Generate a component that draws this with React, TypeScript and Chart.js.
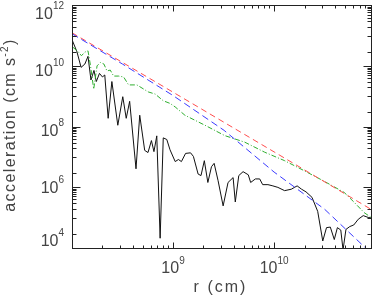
import React, { useEffect, useRef } from 'react';
import { Chart, registerables } from 'chart.js';

Chart.register(...registerables);

// r (cm) and acceleration (cm s^-2)
const blackR = [1.01e8, 1.12e8, 1.23e8, 1.34e8, 1.44e8, 1.54e8, 1.65e8, 1.74e8, 1.87e8, 2.0e8, 2.11e8, 2.28e8, 2.48e8, 2.84e8, 3.18e8, 3.44e8, 3.72e8, 4.3e8, 4.68e8, 5.24e8, 5.65e8, 6.11e8, 6.47e8, 6.9e8, 7.45e8, 8.0e8, 8.67e8, 9.33e8, 1.05e9, 1.13e9, 1.21e9, 1.33e9, 1.49e9, 1.59e9, 1.77e9, 1.89e9, 2.04e9, 2.21e9, 2.4e9, 2.55e9, 2.79e9, 3.13e9, 3.5e9, 3.93e9, 4.13e9, 4.47e9, 4.93e9, 5.55e9, 5.86e9, 6.53e9, 7.2e9, 7.71e9, 8.69e9, 9.72e9, 1.09e10, 1.27e10, 1.48e10, 1.69e10, 1.87e10, 2.07e10, 2.37e10, 2.7e10, 3.03e10, 3.3e10, 3.6e10, 3.94e10, 4.23e10, 4.57e10, 4.81e10, 5.14e10, 5.61e10, 6.14e10, 6.81e10, 7.62e10, 8.53e10, 9.2e10];
const blackA = [6.9e10, 2.95e10, 9.1e9, 1.17e10, 2.1e10, 3.5e9, 7.2e9, 3.1e9, 5.75e9, 4.4e9, 5.1e9, 1.9e8, 3.1e9, 1.12e8, 9.8e8, 1.9e8, 6.9e8, 4.1e6, 2.4e8, 1.66e7, 1.41e7, 3.5e7, 1.51e7, 5.0e7, 2.1e4, 4.3e7, 3.8e7, 1.74e7, 7.1e6, 8.3e6, 7.1e6, 1.32e7, 1.38e7, 1.05e7, 2.75e6, 2.45e6, 7.6e6, 1.45e6, 4.8e6, 6.2e6, 1.66e6, 2.45e5, 1.45e6, 2.1e6, 3.3e5, 2.45e6, 3.3e6, 2.6e6, 1.45e6, 1.9e6, 1.9e6, 1.23e6, 1.23e6, 1.12e6, 1.0e6, 7.8e5, 8.7e5, 1.12e6, 8.7e5, 7.1e5, 4.7e5, 1.62e5, 1.7e4, 4.7e4, 4.9e4, 1.9e4, 4.7e4, 3.9e4, 8.7e3, 4.1e4, 5.1e4, 5.75e4, 8.9e4, 1.17e5, 1.02e5, 9.8e4];

const greenR = [1.02e8, 1.15e8, 1.24e8, 1.34e8, 1.44e8, 1.52e8, 1.64e8, 1.77e8, 1.91e8, 2.07e8, 2.22e8, 2.39e8, 2.58e8, 2.89e8, 3.24e8, 3.63e8, 4.39e8, 5.68e8, 6.65e8, 8.0e8, 9.33e8, 1.05e9, 1.31e9, 2.07e9, 3.25e9, 5.12e9, 8.05e9, 1.27e10, 2.0e10, 3.14e10, 4.94e10, 6.21e10, 7.76e10, 9.2e10];
const greenA = [4.2e10, 3.0e10, 2.2e10, 2.9e10, 3.2e10, 1.1e10, 1.74e9, 1.02e10, 1.32e10, 1.17e10, 6.9e9, 7.4e9, 4.7e9, 4.7e9, 4.4e9, 2.4e9, 2.4e9, 1.41e9, 1.2e9, 7.2e8, 5.9e8, 4.5e8, 2.4e8, 1.12e8, 5.1e7, 3.1e7, 1.45e7, 7.6e6, 3.5e6, 1.58e6, 6.8e5, 3.2e5, 1.48e5, 1.0e5];

const redR = [1e8, 1e9, 1e10, 9.2e10];
const redA = [1.26e11, 1.38e9, 1.48e7, 1.85e5];

const blueR = [1e8, 3.16e8, 1e9, 3.2e9, 1e10, 3.16e10, 7.8e10, 9.2e10];
const blueA = [1.17e11, 1.17e10, 1.07e9, 7.6e7, 3.2e6, 1.9e5, 1.1e4, 7e3];

const xLabelExps = [9, 10];
const yLabelExps = [4, 6, 8, 10, 12];
const yLabelNudge = [-8, 0, 3.3, 3.9, 7.5];

const FONT = '"Liberation Sans", Arial, Helvetica, sans-serif';
const AXIS_COLOR = '#222';
const TEXT_COLOR = '#444';

const idlAxes = {
  id: 'idlAxes',
  afterDatasetsDraw(chart: any) {
    const { ctx, chartArea: ca, scales } = chart;
    const xs = scales.x;
    const ys = scales.y;
    const xL = Math.floor(ca.left) + 0.5;
    const xR = Math.floor(ca.right) + 0.5;
    const yT = Math.floor(ca.top) + 0.5;
    const yB = Math.floor(ca.bottom) + 0.5;
    ctx.save();
    ctx.strokeStyle = AXIS_COLOR;
    ctx.lineWidth = 1;
    ctx.setLineDash([]);
    ctx.strokeRect(xL, yT, xR - xL, yB - yT);

    ctx.beginPath();
    // x ticks
    for (let e = 8; e <= 10; e++) {
      for (let k = 1; k <= 9; k++) {
        const v = k * Math.pow(10, e);
        if (v <= xs.min || v >= xs.max) continue;
        const px = Math.round(xs.getPixelForValue(v)) + 0.5;
        const len = k === 1 ? 6 : 3;
        ctx.moveTo(px, yB);
        ctx.lineTo(px, yB - len);
        ctx.moveTo(px, yT);
        ctx.lineTo(px, yT + len);
      }
    }
    // y ticks
    const yTick = (v: number, len: number) => {
      if (v <= ys.min || v >= ys.max) return;
      const py = Math.round(ys.getPixelForValue(v)) + 0.5;
      ctx.moveTo(xL, py);
      ctx.lineTo(xL + len, py);
      ctx.moveTo(xR, py);
      ctx.lineTo(xR - len, py);
    };
    for (const e of yLabelExps) {
      const M = Math.pow(10, e);
      yTick(M, 8);
      for (let k = 1; k <= 9; k++) yTick((M * k) / 10, 4);
      yTick(M * 0.03, 4);
    }
    ctx.stroke();

    ctx.fillStyle = TEXT_COLOR;
    ctx.textBaseline = 'alphabetic';
    ctx.textAlign = 'left';
    const baseFont = '16px ' + FONT;
    const expFont = '10px ' + FONT;

    // x tick labels
    for (const e of xLabelExps) {
      const px = xs.getPixelForValue(Math.pow(10, e));
      ctx.font = baseFont;
      const bw = ctx.measureText('10').width;
      ctx.font = expFont;
      const ew = ctx.measureText(String(e)).width;
      const x0 = px - (bw + ew) / 2;
      ctx.font = baseFont;
      ctx.fillText('10', x0, 273);
      ctx.font = expFont;
      ctx.fillText(String(e), x0 + bw, 264);
    }
    // y tick labels
    yLabelExps.forEach((e, i) => {
      const py = ys.getPixelForValue(Math.pow(10, e)) + yLabelNudge[i];
      ctx.font = expFont;
      const ew = ctx.measureText(String(e)).width;
      ctx.font = baseFont;
      const bw = ctx.measureText('10').width;
      const right = 64;
      ctx.fillText('10', right - ew - bw, py + 5.5);
      ctx.font = expFont;
      ctx.fillText(String(e), right - ew, py - 4.5);
    });

    // x title
    (ctx as any).letterSpacing = '2px';
    ctx.font = '16px ' + FONT;
    ctx.textAlign = 'center';
    ctx.fillText('r (cm)', 220.5, 292);

    // y title
    ctx.save();
    (ctx as any).letterSpacing = '1.4px';
    ctx.translate(15, 125);
    ctx.rotate(-Math.PI / 2);
    ctx.textAlign = 'left';
    const p1 = 'acceleration (cm s';
    const p2 = '-2';
    const p3 = ')';
    ctx.font = '16px ' + FONT;
    const w1 = ctx.measureText(p1).width;
    const w3 = ctx.measureText(p3).width;
    ctx.font = '10px ' + FONT;
    const w2 = ctx.measureText(p2).width;
    const total = w1 + w2 + w3;
    let x = -total / 2;
    ctx.font = '16px ' + FONT;
    ctx.fillText(p1, x, 0);
    x += w1;
    ctx.font = '10px ' + FONT;
    ctx.fillText(p2, x, -7);
    x += w2;
    ctx.font = '16px ' + FONT;
    ctx.fillText(p3, x, 0);
    ctx.restore();

    ctx.restore();
  },
};

const pts = (r: number[], a: number[]) => r.map((v, i) => ({ x: v, y: a[i] }));

export default function App() {
  const ref = useRef<HTMLCanvasElement>(null);
  useEffect(() => {
    document.body.style.margin = '0';
    const canvas = ref.current;
    if (!canvas) return;
    const common = { borderWidth: 1, pointRadius: 0, fill: false, tension: 0 };
    const chart = new Chart(canvas, {
      type: 'line',
      data: {
        datasets: [
          { ...common, label: 'blue', data: pts(blueR, blueA), borderColor: '#3a3aff', borderDash: [7, 4] },
          { ...common, label: 'red', data: pts(redR, redA), borderColor: '#ff4d4d', borderDash: [6, 4] },
          { ...common, label: 'green', data: pts(greenR, greenA), borderColor: '#2fae2f', borderDash: [5, 2, 1, 2] },
          { ...common, label: 'black', data: pts(blackR, blackA), borderColor: '#111111' },
        ],
      } as any,
      options: {
        responsive: false,
        animation: false,
        devicePixelRatio: 1,
        layout: { padding: { left: 72, right: 2.5, top: 5.5, bottom: 53 } },
        scales: {
          x: { type: 'logarithmic', min: 1e8, max: 9.2e10, display: false },
          y: { type: 'logarithmic', min: 1e4, max: 1e12, display: false },
        },
        plugins: { legend: { display: false }, tooltip: { enabled: false } },
        events: [],
      } as any,
      plugins: [idlAxes],
    });
    return () => chart.destroy();
  }, []);
  return <canvas ref={ref} width={374} height={301} style={{ display: 'block' }} />;
}
